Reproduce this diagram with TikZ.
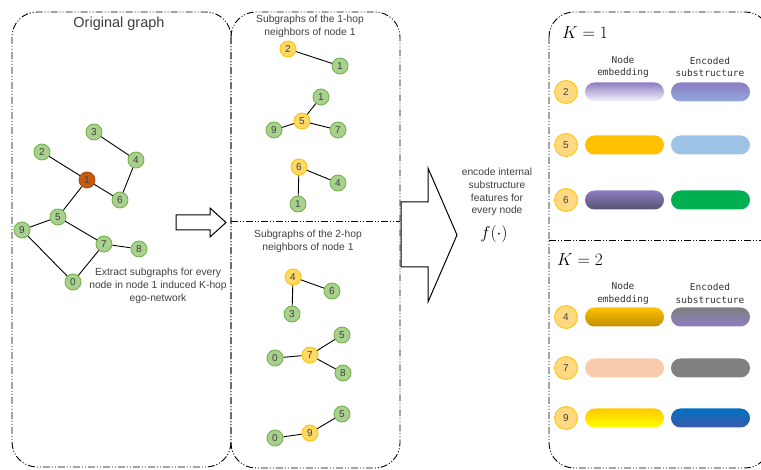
\documentclass[tikz,border=0pt]{standalone}
\usepackage{fontspec}
\setmainfont{Liberation Sans}
\setmonofont{DejaVu Sans Mono}
\usepackage{amsmath,amssymb}
\usepackage{xcolor}
\usepackage{tikz}

\definecolor{gfill}{HTML}{A9D18E}
\definecolor{gdraw}{HTML}{70AD47}
\definecolor{ofill}{HTML}{C55A11}
\definecolor{yfill}{HTML}{FFD966}
\definecolor{ydraw}{HTML}{FFC000}
\definecolor{kfill}{HTML}{FFD97F}
\definecolor{txt}{HTML}{404040}
\definecolor{purp}{HTML}{8E7CC3}

\begin{document}
\begin{tikzpicture}[x=1pt,y=-1pt,thick,
                      main node/.style={circle,draw=gdraw,fill=gfill,line width=0.8pt,minimum size=16pt,inner sep=0pt,
                                        text=txt,font=\fontsize{10}{10}\selectfont},
                      root node/.style={main node,draw=ofill!85!black,fill=ofill},
                      hop node/.style={main node,draw=ydraw,fill=yfill},
                      idx node/.style={circle,draw=ydraw,fill=kfill,line width=0.8pt,minimum size=23pt,inner sep=0pt,
                                       text=txt,font=\fontsize{10}{10}\selectfont},
                      bar/.style={rounded corners=9.5pt,minimum width=79pt,minimum height=19pt,inner sep=0pt},
                      panel/.style={draw,line width=0.9pt,rounded corners=25pt,
                                    dash pattern=on 7pt off 2pt on 1pt off 2pt on 1pt off 2pt},
                      divider/.style={draw,line width=0.9pt,dash pattern=on 7pt off 2pt on 1pt off 2pt on 1pt off 2pt},
                      note/.style={align=center,text=txt,font=\fontsize{10.3}{12.8}\selectfont},
                      head/.style={align=center,text=black!80,font=\ttfamily\fontsize{9.5}{12.5}\selectfont},
                      hollow/.style={draw,line width=1pt,fill=white}]

    \clip (0,0) rectangle (761,470);

    % panels
    \path[panel] (12,12) rectangle (231,467);
    \path[panel] (231,12) rectangle (400,468);
    \path[divider] (231,221) -- (400,221);
    \path[panel] (549,12) rectangle (770,468);
    \path[divider] (549,240) -- (770,240);

    % arrows
    \path[hollow] (176,215) -- (210,215) -- (210,208) -- (226,222.5) -- (210,237) -- (210,230) -- (176,230) -- cycle;
    \path[hollow] (401,202) -- (428,202) -- (428,168) -- (457,235) -- (428,302) -- (428,267) -- (401,267) -- cycle;

    % original graph
    \node[note,font=\fontsize{14.5}{14.5}\selectfont] (title) at (119,24) {Original graph};

    \node[main node] (o3) at (94,132) {3};
    \node[main node] (o2) at (42,152) {2};
    \node[main node] (o4) at (136,160) {4};
    \node[root node] (o1) at (87,180) {1};
    \node[main node] (o6) at (120,200) {6};
    \node[main node] (o5) at (58,217) {5};
    \node[main node] (o9) at (22,230) {9};
    \node[main node] (o7) at (104,244) {7};
    \node[main node] (o8) at (139,249) {8};
    \node[main node] (o0) at (73,282) {0};

    \path[every edge/.style={draw,line width=0.9pt}]
      (o2) edge (o1)
      (o1) edge (o6)
           edge (o5)
      (o6) edge (o4)
      (o4) edge (o3)
      (o5) edge (o9)
           edge (o7)
      (o9) edge (o0)
      (o0) edge (o7)
      (o7) edge (o8)
    ;

    \node[note] (extract) at (158,286) {Extract subgraphs for every\\node in node 1 induced K-hop\\ego-network};

    % 1-hop subgraphs
    \node[note] (hop1) at (310,26.5) {Subgraphs of the 1-hop\\neighbors of node 1};

    \node[hop node] (a2) at (288,49) {2};
    \node[main node] (a1) at (340,66) {1};

    \node[main node] (b1) at (321,97) {1};
    \node[hop node] (b5) at (302,121) {5};
    \node[main node] (b9) at (274,130) {9};
    \node[main node] (b7) at (338,130) {7};

    \node[hop node] (c6) at (299,167) {6};
    \node[main node] (c4) at (338,183) {4};
    \node[main node] (c1) at (298,204) {1};

    \path[every edge/.style={draw,line width=0.9pt}]
      (a2) edge (a1)
      (b5) edge (b1)
           edge (b9)
           edge (b7)
      (c6) edge (c4)
           edge (c1)
    ;

    % 2-hop subgraphs
    \node[note] (hop2) at (308,241) {Subgraphs of the 2-hop\\neighbors of node 1};

    \node[hop node] (d4) at (293,277) {4};
    \node[main node] (d6) at (332,291) {6};
    \node[main node] (d3) at (292,314) {3};

    \node[main node] (e5) at (342,335) {5};
    \node[main node] (e0) at (275,358) {0};
    \node[hop node] (e7) at (310,355) {7};
    \node[main node] (e8) at (343,373) {8};

    \node[main node] (f5) at (342,414) {5};
    \node[hop node] (f9) at (310,433) {9};
    \node[main node] (f0) at (275,438) {0};

    \path[every edge/.style={draw,line width=0.9pt}]
      (d4) edge (d6)
           edge (d3)
      (e7) edge (e5)
           edge (e0)
           edge (e8)
      (f9) edge (f5)
           edge (f0)
    ;

    % encoder
    \node[note] (encode) at (497,192) {encode internal\\substructure\\features for\\every node};
    \node[font=\fontsize{16}{16}\selectfont] (fdot) at (494,234) {$f(\cdot)$};

    % K = 1
    \node[font=\fontsize{16}{16}\selectfont] (kone) at (585,33) {$K=1$};
    \node[head] (hemb1) at (623,67) {Node\\embedding};
    \node[head] (henc1) at (710,67) {Encoded\\substructure};

    \node[idx node] (k2) at (566,92) {2};
    \node[bar,top color=purp,bottom color=purp!8] (emb2) at (624.5,92) {};
    \node[bar,top color=purp,bottom color={rgb,255:red,142;green,170;blue,219}] (enc2) at (710.5,92) {};

    \node[idx node] (k5) at (566,145) {5};
    \node[bar,fill={rgb,255:red,255;green,192;blue,0}] (emb5) at (624.5,145) {};
    \node[bar,fill={rgb,255:red,157;green,195;blue,230}] (enc5) at (710.5,145) {};

    \node[idx node] (k6) at (566,200) {6};
    \node[bar,top color=purp,bottom color={rgb,255:red,84;green,84;blue,112}] (emb6) at (624.5,200) {};
    \node[bar,fill={rgb,255:red,0;green,176;blue,80}] (enc6) at (710.5,200) {};

    % K = 2
    \node[font=\fontsize{16}{16}\selectfont] (ktwo) at (580,260) {$K=2$};
    \node[head] (hemb2) at (623,293.5) {Node\\embedding};
    \node[head] (henc2) at (710,293.5) {Encoded\\substructure};

    \node[idx node] (k4) at (566,317) {4};
    \node[bar,top color={rgb,255:red,255;green,192;blue,0},bottom color={rgb,255:red,191;green,144;blue,0}] (emb4) at (624.5,317) {};
    \node[bar,top color={rgb,255:red,127;green,127;blue,127},bottom color=purp] (enc4) at (710.5,317) {};

    \node[idx node] (k7) at (566,368) {7};
    \node[bar,fill={rgb,255:red,248;green,203;blue,173}] (emb7) at (624.5,368) {};
    \node[bar,fill={rgb,255:red,128;green,128;blue,128}] (enc7) at (710.5,368) {};

    \node[idx node] (k9) at (566,418) {9};
    \node[bar,top color={rgb,255:red,255;green,200;blue,0},bottom color={rgb,255:red,255;green,255;blue,0}] (emb9) at (624.5,418) {};
    \node[bar,top color={rgb,255:red,0;green,112;blue,192},bottom color={rgb,255:red,60;green,90;blue,170}] (enc9) at (710.5,418) {};

  \end{tikzpicture}
\end{document}
